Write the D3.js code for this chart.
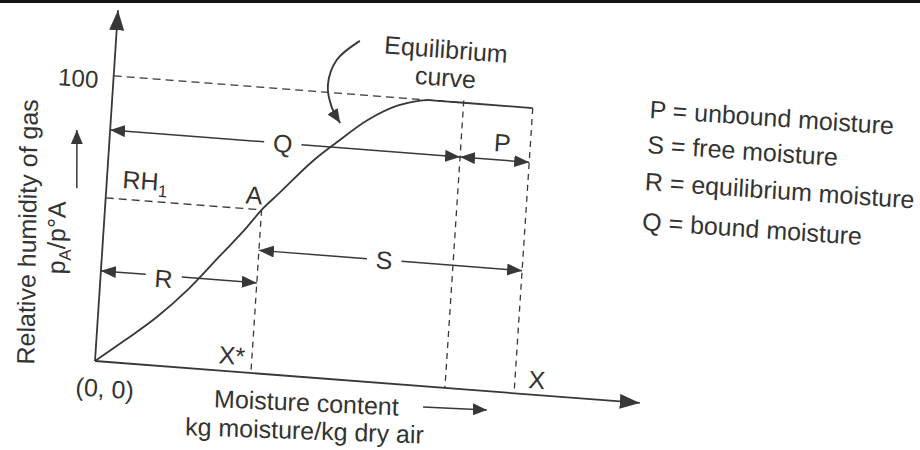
<!DOCTYPE html>
<html><head><meta charset="utf-8">
<script src="https://cdn.jsdelivr.net/npm/d3@7"></script>
<style>
html,body{margin:0;padding:0;background:#fff;}
svg{display:block;}
text{font-family:"Liberation Sans",Arial,Helvetica,sans-serif;fill:#333;}
</style></head><body><svg id="c" width="920" height="450"></svg>
<script>
// ---------- data (moisture content in arbitrary units, relative humidity in %) ----------
const curveX = [0, 7, 14, 21, 28, 34, 37.2, 41, 49, 54, 61, 68, 72, 76, 83.5, 100];
const curveY = [0, 8.3, 17, 27.5, 40, 50.8, 57.2, 63.3, 76.2, 82.8, 91.4, 97.3, 99.2, 100, 100, 100];
const xStar = 37.2, xBound = 83.5, xTotal = 100;
const rh1 = 57.2, rhFull = 100;
const xMax = 130, yMax = 123;
const yTickLabels = ["100"];
const dimLabels = ["Q", "P", "S", "R"];
const dimFrom   = [0, xBound, xStar, 0];
const dimTo     = [xBound, xTotal, xTotal, xStar];
const dimLevel  = [81.0, 81.0, 43.0, 31.6];
const dimLabelX = [41.2, 93.3, 67.1, 15.0];
const dimLabelY = [81.0, 87.1, 43.0, 30.6];
const legendLabels = ["P = unbound moisture", "S = free moisture", "R = equilibrium moisture", "Q = bound moisture"];
const legendX = 127.8;
const legendY = [99.7, 87.4, 74.4, 60.4];
const calloutX = [57.9, 52.7, 51.0, 52.2, 54.5];
const calloutY = [118.8, 111.5, 102.6, 95.1, 89.6];

// ---------- drawing ----------
const svg = d3.select("#c");
const ink = "#383838";
svg.append("rect").attr("x",0).attr("y",0).attr("width",920).attr("height",3).attr("fill","#141414");

const defs = svg.append("defs");
function marker(id, L, W){
  defs.append("marker").attr("id",id).attr("viewBox",`0 0 ${L} ${W}`)
    .attr("refX",L).attr("refY",W/2).attr("markerWidth",L).attr("markerHeight",W)
    .attr("markerUnits","userSpaceOnUse").attr("orient","auto-start-reverse")
    .append("path").attr("d",`M0,0L${L},${W/2}L0,${W}Z`).attr("fill",ink);
}
marker("ah",15,12);
marker("axh",20,15);
marker("sh",14,12);

const x = d3.scaleLinear().domain([0,xMax]).range([0,546.4]);
const y = d3.scaleLinear().domain([0,yMax]).range([0,-351.5]);

// the scanned figure is slightly tilted
const g = svg.append("g").attr("transform","matrix(0.99705,0.07672,-0.0654,0.99786,95,361)");

function seg(x1,y1,x2,y2,opts={}){
  const l = g.append("line").attr("x1",x(x1)).attr("y1",y(y1)).attr("x2",x(x2)).attr("y2",y(y2))
    .attr("stroke",ink).attr("stroke-width",opts.w||1.6);
  if(opts.dash) l.attr("stroke-dasharray",opts.dash);
  if(opts.start) l.attr("marker-start",`url(#${opts.start})`);
  if(opts.end) l.attr("marker-end",`url(#${opts.end})`);
  return l;
}
function txt(s,xv,yv,opts={}){
  const t = g.append("text").attr("font-size",opts.size||25);
  let tr = `translate(${x(xv)+(opts.dx||0)},${y(yv)+(opts.dy||0)})`;
  if(opts.rot) tr += ` rotate(${opts.rot})`;
  t.attr("transform",tr).attr("text-anchor",opts.anchor||"start");
  t.text(s);
  return t;
}

// dashed guides
seg(0,rhFull,xBound,rhFull,{dash:"8,5",w:1.3});
seg(0,rh1,xStar,rh1,{dash:"8,5",w:1.3});
seg(xStar,rh1,xStar,0,{dash:"6,5",w:1.3});
seg(xBound,rhFull+0.8,xBound,0,{dash:"6,5",w:1.3});
seg(xTotal,rhFull,xTotal,0,{dash:"6,5",w:1.3});

// axes
seg(0,0,0,yMax,{end:"axh",w:1.8});
seg(0,0,xMax,0,{end:"axh",w:1.8});

// equilibrium curve
const pts = curveX.map((v,i)=>[v,curveY[i]]);
g.append("path").attr("d",d3.line().x(d=>x(d[0])).y(d=>y(d[1])).curve(d3.curveMonotoneX)(pts))
  .attr("fill","none").attr("stroke",ink).attr("stroke-width",1.8);

// dimension arrows
dimLabels.forEach((lab,i)=>{
  const t = txt(lab,dimLabelX[i],dimLabelY[i],{anchor:"middle",dy:9});
  if(lab==="P"){
    seg(dimFrom[i],dimLevel[i],dimTo[i],dimLevel[i],{start:"ah",end:"ah",w:1.5});
  } else {
    const half = (t.node().getBBox().width/2 + 9)/4.203;
    seg(dimFrom[i],dimLevel[i],dimLabelX[i]-half,dimLevel[i],{start:"ah",w:1.5});
    seg(dimLabelX[i]+half,dimLevel[i],dimTo[i],dimLevel[i],{end:"ah",w:1.5});
  }
});

// labels
txt(yTickLabels[0],-3.6,95.3,{anchor:"end",size:24});
const rh = txt("RH",3.7,61.1);
rh.append("tspan").attr("font-size",17).attr("dy",6).text("1");
txt("A",33.2,59.1);
txt("X*",29.3,2.5);
txt("X",103.2,2.2);
txt("(0, 0)",-4.2,-12.4);
txt("Moisture content",50.9,-11.9,{anchor:"middle",rot:-1.8});
txt("kg moisture/kg dry air",50.9,-21.7,{anchor:"middle",rot:-2.4});
seg(78.6,-7.2,93.8,-6.6,{end:"sh",w:1.5});

// y axis title
txt("Relative humidity of gas",-16.0,43.4,{anchor:"middle",rot:-93});
const pa = txt("p",-9.0,42.1,{anchor:"middle",rot:-93});
pa.append("tspan").attr("font-size",17).attr("dy",6).text("A");
pa.append("tspan").attr("dy",-6).text("/p°A");
seg(-7.0,59.8,-7.9,80.1,{end:"sh",w:1.5});

// equilibrium curve callout
txt("Equilibrium",78.5,115.1,{anchor:"middle"});
txt("curve",78.8,105.3,{anchor:"middle"});
const cpts = calloutX.map((v,i)=>[v,calloutY[i]]);
g.append("path").attr("d",d3.line().x(d=>x(d[0])).y(d=>y(d[1])).curve(d3.curveCatmullRom)(cpts))
  .attr("fill","none").attr("stroke",ink).attr("stroke-width",1.9).attr("marker-end","url(#sh)");

// legend
legendLabels.forEach((s,i)=>txt(s,legendX,legendY[i],{rot:-0.5}));
</script></body></html>
